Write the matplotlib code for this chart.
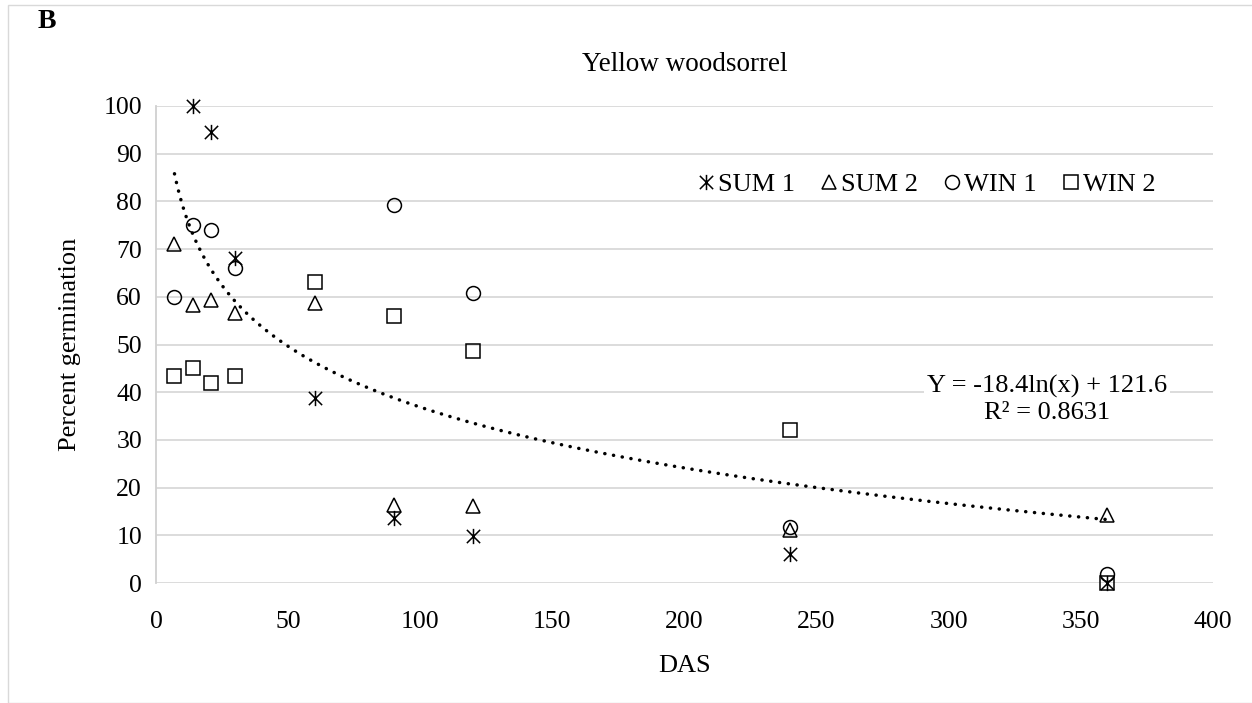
import matplotlib
matplotlib.use("Agg")
import matplotlib.pyplot as plt
import numpy as np
from matplotlib.path import Path
from matplotlib.patches import Rectangle

plt.rcParams["font.family"] = ["Liberation Serif", "DejaVu Serif"]

# days after sowing and percent germination per burial cohort
das = [7, 14, 21, 30, 60, 90, 120, 240, 360]
sum1_das = [14, 21, 30, 60, 90, 120, 240, 360]
sum1 = [100, 94.5, 68.2, 38.8, 13.7, 9.8, 6.0, 0.0]
sum2 = [71.0, 58.3, 59.3, 56.5, 58.8, 16.4, 16.2, 11.2, 14.2]
win1_das = [7, 14, 21, 30, 90, 120, 240, 360]
win1 = [60.0, 75.0, 74.0, 66.0, 79.2, 60.7, 11.8, 1.8]
win2 = [43.5, 45.0, 42.0, 43.5, 63.0, 56.0, 48.7, 32.0, 0.0]

# logarithmic trend: Y = a*ln(x) + b
trend_a = -18.4
trend_b = 121.6
trend_r2 = 0.8631

yticks = list(range(0, 101, 10))
xticks = list(range(0, 401, 50))

# excel-style asterisk: an X with a vertical stroke
star = Path(
    [(-1, -1), (1, 1), (-1, 1), (1, -1), (0, -1.15), (0, 1.15)],
    [Path.MOVETO, Path.LINETO, Path.MOVETO, Path.LINETO, Path.MOVETO, Path.LINETO],
)

FS = 19

fig = plt.figure(figsize=(12.52, 7.03), dpi=100)
fig.patches.append(Rectangle((8 / 1252, 0), 1.0, 1 - 5 / 703, transform=fig.transFigure,
                             fill=False, edgecolor="#d9d9d9", linewidth=1.0))
ax = fig.add_axes([156 / 1252, 1 - 583 / 703, (1213 - 156) / 1252, (583 - 106) / 703])

mk = dict(linestyle="none", markersize=10, markeredgewidth=1.1,
          markerfacecolor="none", markeredgecolor="black", color="black", clip_on=False)
ax.plot(sum1_das, sum1, marker=star, label="SUM 1", **{**mk, "markersize": 11})
ax.plot(das, sum2, marker="^", label="SUM 2", **mk)
ax.plot(win1_das, win1, marker="o", label="WIN 1", **mk)
ax.plot(das, win2, marker="s", label="WIN 2", **mk)

xt = np.linspace(min(das), max(das), 400)
ax.plot(xt, trend_a * np.log(xt) + trend_b, color="black", linewidth=2.5,
        linestyle=(0, (0.05, 2.5)), dash_capstyle="round")

ax.set_xlim(0, 400)
ax.set_ylim(0, 100)
ax.set_xticks(xticks)
ax.set_yticks(yticks)
ax.tick_params(length=0, labelsize=18.5)
ax.tick_params(axis="x", pad=20)
ax.tick_params(axis="y", pad=10)
ax.grid(axis="y", color="#d9d9d9", linewidth=1.3)
ax.set_axisbelow(True)
for side in ["top", "right", "bottom"]:
    ax.spines[side].set_visible(False)
ax.spines["left"].set_color("#d0d0d0")
ax.spines["left"].set_linewidth(1.3)

ax.set_xlabel("DAS", fontsize=FS, labelpad=16)
ax.set_ylabel("Percent germination", fontsize=FS, labelpad=16)
ax.set_title("Yellow woodsorrel", fontsize=FS + 0.5, pad=25)
fig.text(38 / 1252, 1 - 21 / 703, "B", fontsize=20, fontweight="bold", va="center", ha="left")

ax.text(0.843, 0.385, f"Y = {trend_a}ln(x) + {trend_b}\nR² = {trend_r2}",
        transform=ax.transAxes, ha="center", va="center", fontsize=FS, linespacing=1.25,
        bbox=dict(facecolor="white", edgecolor="none", pad=2))

ax.legend(loc="center", bbox_to_anchor=(0.729, 0.835), ncol=4, frameon=False,
          fontsize=FS, handlelength=0.6, handletextpad=0.15, columnspacing=1.0,
          borderaxespad=0)

fig.savefig("out.png", dpi=100)
